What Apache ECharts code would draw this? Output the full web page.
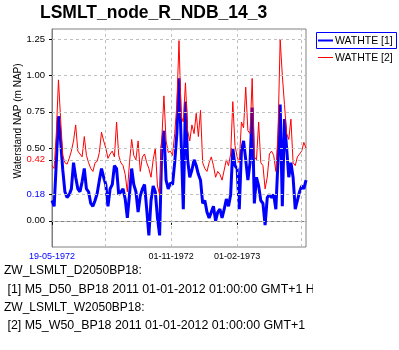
<!DOCTYPE html>
<html><head><meta charset="utf-8">
<script src="https://cdn.jsdelivr.net/npm/echarts@6/dist/echarts.min.js"></script>
<style>html,body{margin:0;padding:0;background:#fff}#c{width:399px;height:350px}</style>
</head><body><div id="c"></div>
<script>
const titleText = 'LSMLT_node_R_NDB_14_3';
const yAxisName = 'Waterstand NAP (m NAP)';
const seriesNames = ['WATHTE [1]', 'WATHTE [2]'];
const startDate = '1972-05-19';
const endDate = '1973-05-08';
const stepDays = 3;
const blueVals = [
 0.14,0.10,0.40,0.72,0.55,0.35,0.20,0.16,0.18,0.22,0.40,0.30,0.22,0.20,0.27,0.36,0.22,0.20,0.12,0.10,0.14,0.19,0.28,0.36,0.30,0.25,0.10,0.22,0.25,0.38,
 0.36,0.18,0.20,0.22,0.15,0.02,0.18,0.36,0.25,0.20,0.06,0.17,0.22,0.25,0.08,-0.10,0.14,0.24,0.20,0.02,-0.10,0.50,0.62,0.28,0.22,0.26,0.25,0.40,0.60,0.98,
 0.55,0.08,0.82,0.42,0.30,0.35,0.42,0.38,0.32,0.28,0.12,0.14,0.06,0.02,0.06,0.10,0.00,0.06,0.08,0.02,0.08,0.15,0.10,0.18,0.50,0.38,0.36,0.08,0.48,0.55,
 0.42,0.28,0.40,0.78,0.12,0.30,0.24,0.14,0.12,-0.03,0.16,0.18,0.16,0.18,0.08,0.42,0.80,0.10,0.70,0.50,0.30,0.40,0.30,0.08,0.14,0.20,0.24,0.22,0.28
];
const redVals = [
 0.38,0.36,0.60,0.97,0.70,0.45,0.40,0.39,0.43,0.48,0.55,0.66,0.48,0.46,0.44,0.58,0.45,0.40,0.36,0.34,0.40,0.41,0.47,0.61,0.55,0.50,0.43,0.46,0.48,0.44,
 0.68,0.45,0.40,0.38,0.32,0.20,0.40,0.56,0.45,0.42,0.55,0.34,0.44,0.46,0.40,0.36,0.30,0.42,0.50,0.24,0.18,0.56,0.86,0.55,0.47,0.48,0.45,0.60,0.80,1.24,
 0.72,0.68,0.95,0.62,0.55,0.66,0.60,0.74,0.58,0.76,0.40,0.36,0.34,0.40,0.44,0.38,0.30,0.34,0.32,0.28,0.35,0.42,0.38,0.46,0.82,0.52,0.44,0.40,0.68,0.64,
 0.92,0.62,0.60,0.98,0.44,0.42,0.68,0.40,0.38,0.22,0.30,0.46,0.48,0.45,0.34,0.60,1.25,1.00,0.80,0.60,0.56,0.70,0.40,0.38,0.44,0.46,0.48,0.54,0.50
];
const yTickValues = [0, 0.18, 0.42, 0.5, 0.75, 1.0, 1.25];
const yMarkBlue = 0.18;
const yMarkRed = 0.42;
const xLabelDates = ['1972-05-19', '1972-11-01', '1973-02-01'];
const xGridDates = ['1972-08-01', '1972-11-01', '1973-02-01', '1973-05-01'];
const footerLines = [
 'ZW_LSMLT_D2050BP18:',
 ' [1] M5_D50_BP18 2011 01-01-2012 01:00:00 GMT+1 H',
 'ZW_LSMLT_W2050BP18:',
 ' [2] M5_W50_BP18 2011 01-01-2012 01:00:00 GMT+1'
];

const DAY = 86400000;
const t0 = Date.parse(startDate);
const toPairs = vals => vals.map((v, i) => [t0 + i * stepDays * DAY, v]);
const pad = n => (n < 10 ? '0' : '') + n;
const fmtDate = v => { const d = new Date(v); return pad(d.getUTCDate()) + '-' + pad(d.getUTCMonth() + 1) + '-' + d.getUTCFullYear(); };
const FONT = 'Liberation Sans';
const gridStyle = { color: '#c0c0c0', type: [3, 3], width: 1 };

const chart = echarts.init(document.getElementById('c'), null, { renderer: 'canvas' });
const markData = yTickValues.map(v => ({ yAxis: v })).concat(xGridDates.map(d => ({ xAxis: Date.parse(d) })));

chart.setOption({
  animation: false,
  backgroundColor: '#ffffff',
  grid: { left: 52, right: 93, top: 29, bottom: 103, show: true, borderColor: '#808080', borderWidth: 1, backgroundColor: 'transparent' },
  xAxis: {
    type: 'value', min: t0, max: Date.parse(endDate),
    axisLine: { lineStyle: { color: '#808080' } },
    splitLine: { show: false },
    axisTick: { show: true, length: 4, lineStyle: { color: '#000' }, customValues: xLabelDates.map(d => Date.parse(d)) },
    axisLabel: {
      customValues: xLabelDates.map(d => Date.parse(d)),
      margin: 5, fontSize: 9, fontFamily: FONT, color: '#000',
      formatter: (v) => (Math.abs(v - t0) < DAY ? '{b|' + fmtDate(v) + '}' : fmtDate(v)),
      rich: { b: { color: '#0000ff', fontSize: 9, fontFamily: FONT } }
    }
  },
  yAxis: {
    type: 'value', min: -0.18, max: 1.32,
    axisLine: { show: true, lineStyle: { color: '#808080' } },
    splitLine: { show: false },
    axisTick: { show: true, length: 3, lineStyle: { color: '#000' }, customValues: yTickValues },
    axisLabel: {
      customValues: yTickValues,
      margin: 7, fontSize: 9.5, fontFamily: FONT, color: '#000',
      formatter: (v) => {
        const s = v.toFixed(2);
        if (Math.abs(v - yMarkBlue) < 1e-6) return '{b|' + s + '}';
        if (Math.abs(v - yMarkRed) < 1e-6) return '{r|' + s + '}';
        return s;
      },
      rich: { b: { color: '#0000ff', fontSize: 9.5, fontFamily: FONT }, r: { color: '#ff0000', fontSize: 9.5, fontFamily: FONT } }
    }
  },
  series: [
    { name: 'grid', type: 'line', data: [], z: 1, silent: true,
      markLine: { silent: true, symbol: 'none', label: { show: false }, lineStyle: gridStyle, emphasis: { disabled: true }, data: markData } },
    { name: seriesNames[0], type: 'line', data: toPairs(blueVals), showSymbol: false, symbol: 'none', z: 3,
      lineStyle: { color: '#0000ff', width: 3 }, itemStyle: { color: '#0000ff' } },
    { name: seriesNames[1], type: 'line', data: toPairs(redVals), showSymbol: false, symbol: 'none', z: 4,
      lineStyle: { color: '#ff0000', width: 1 }, itemStyle: { color: '#ff0000' } }
  ],
  graphic: [
    { type: 'text', left: 40, top: 4, style: { text: titleText, font: 'bold 17.5px "Liberation Sans"', fill: '#000' } },
    { type: 'text', x: 18, y: 121, rotation: Math.PI / 2, style: { text: yAxisName, font: '10px "Liberation Sans"', fill: '#000', align: 'center', verticalAlign: 'middle' } },
    // legend
    { type: 'rect', shape: { x: 316.5, y: 32.5, width: 80, height: 16 }, style: { fill: 'none', stroke: '#0000ff', lineWidth: 1 } },
    { type: 'line', shape: { x1: 318, y1: 40.5, x2: 333, y2: 40.5 }, style: { stroke: '#0000ff', lineWidth: 2 } },
    { type: 'text', x: 335, y: 41, style: { text: seriesNames[0], font: '10.5px "Liberation Sans"', fill: '#000', verticalAlign: 'middle' } },
    { type: 'line', shape: { x1: 318, y1: 57.5, x2: 333, y2: 57.5 }, style: { stroke: '#ff0000', lineWidth: 1 } },
    { type: 'text', x: 335, y: 58, style: { text: seriesNames[1], font: '10.5px "Liberation Sans"', fill: '#000', verticalAlign: 'middle' } },
    // footer
    { type: 'text', x: 4, y: 271, style: { text: footerLines[0], font: '12px "Liberation Sans"', fill: '#000', verticalAlign: 'middle' } },
    { type: 'text', x: 4, y: 290, style: { text: footerLines[1], font: '12.4px "Liberation Sans"', fill: '#000', verticalAlign: 'middle' } },
    { type: 'text', x: 4, y: 308, style: { text: footerLines[2], font: '12px "Liberation Sans"', fill: '#000', verticalAlign: 'middle' } },
    { type: 'text', x: 4, y: 326, style: { text: footerLines[3], font: '12.4px "Liberation Sans"', fill: '#000', verticalAlign: 'middle' } },
    { type: 'rect', z: 100, shape: { x: 313, y: 280, width: 86, height: 20 }, style: { fill: '#fff' } }
  ]
});
</script></body></html>
